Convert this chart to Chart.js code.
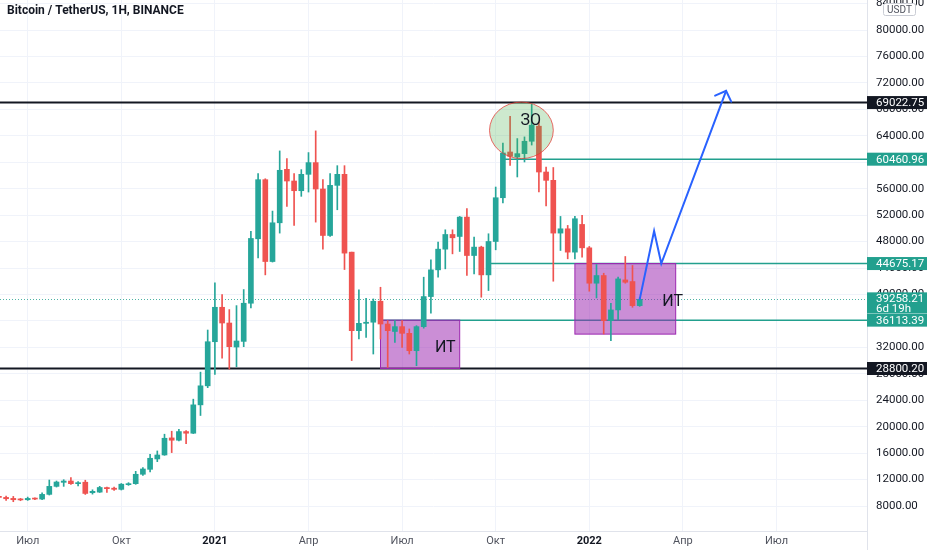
<!DOCTYPE html>
<html><head><meta charset="utf-8">
<script src="https://cdn.jsdelivr.net/npm/chart.js@4.4.1/dist/chart.umd.min.js"></script>
<style>html,body{margin:0;padding:0;background:#fff;overflow:hidden}canvas{display:block}</style>
</head><body>
<canvas id="c" width="932" height="550"></canvas>
<script>
// ---- data ----
const weeks = [
 '2020-06-08','2020-06-15','2020-06-22','2020-06-29','2020-07-06','2020-07-13','2020-07-20','2020-07-27',
 '2020-08-03','2020-08-10','2020-08-17','2020-08-24','2020-08-31','2020-09-07','2020-09-14','2020-09-21',
 '2020-09-28','2020-10-05','2020-10-12','2020-10-19','2020-10-26','2020-11-02','2020-11-09','2020-11-16',
 '2020-11-23','2020-11-30','2020-12-07','2020-12-14','2020-12-21','2020-12-28',
 '2021-01-04','2021-01-11','2021-01-18','2021-01-25','2021-02-01','2021-02-08','2021-02-15','2021-02-22',
 '2021-03-01','2021-03-08','2021-03-15','2021-03-22','2021-03-29','2021-04-05','2021-04-12','2021-04-19',
 '2021-04-26','2021-05-03','2021-05-10','2021-05-17','2021-05-24','2021-05-31','2021-06-07','2021-06-14',
 '2021-06-21','2021-06-28','2021-07-05','2021-07-12','2021-07-19','2021-07-26','2021-08-02','2021-08-09',
 '2021-08-16','2021-08-23','2021-08-30','2021-09-06','2021-09-13','2021-09-20','2021-09-27','2021-10-04',
 '2021-10-11','2021-10-18','2021-10-25','2021-11-01','2021-11-08','2021-11-15','2021-11-22','2021-11-29',
 '2021-12-06','2021-12-13','2021-12-20','2021-12-27',
 '2022-01-03','2022-01-10','2022-01-17','2022-01-24','2022-01-31','2022-02-07','2022-02-14','2022-02-21'
];
const open = [
 9450,9300,9150,9000,8950,9150,9050,9760,10970,11580,11780,11380,11600,10010,10100,10790,
 10700,10520,11230,11380,12800,13550,15120,15720,18300,17950,19260,19010,23300,26180,
 32850,38060,35680,32050,32900,38670,48420,57360,44980,50840,58930,57160,55690,58170,59940,55950,
 48920,56500,58170,46400,34520,35630,35800,38970,35530,34400,35130,34120,31490,35130,39680,43720,
 46850,49070,48770,51700,45890,47160,42960,48010,54630,61550,60800,61300,63170,65450,58520,57260,
 49280,49930,46400,50590,47050,41700,42860,36040,37660,42200,41950,38310
];
const high = [
 9550,9500,9450,9150,9350,9250,10010,11930,11780,11980,12290,11680,11900,10450,10980,10850,
 10850,11400,11530,13250,13800,15820,16330,18860,19310,19610,19420,24160,28250,34620,
 41750,39980,37710,38310,40740,49530,58270,57500,52610,61710,60550,58270,58880,61460,64740,57360,
 58270,59480,59480,46400,40690,39400,39320,41090,36040,36040,36040,34780,35280,42610,45230,47910,
 49780,49780,51800,52970,48670,47300,49180,56250,62900,66960,63580,63830,68900,66100,59250,59200,
 51800,50440,51800,51950,47260,44530,43210,38670,42610,45740,44380,39500
];
const low = [
 9200,8850,8650,8800,8850,8950,8950,9660,10870,10970,11280,11020,9750,9800,10050,10050,
 10370,10420,11120,11280,12640,13150,14710,15670,16080,17850,17440,18960,21690,25900,
 27900,30380,28710,29060,32100,37960,45540,42960,44900,49280,53320,50440,54840,55490,50940,46850,
 48770,52810,43770,30000,33260,33500,30990,33260,28970,32760,32000,30990,29220,34900,37150,42610,
 43870,46140,46500,42860,43110,39580,40590,46750,53830,59530,57770,60040,62600,55490,53400,42000,
 46650,45390,45390,45640,40490,39470,34020,33010,36140,41700,38060,38200
];
const close = [
 9300,9100,8950,8920,9150,9050,9760,10970,11630,11780,11380,11530,9900,10220,10800,10620,
 10520,11300,11380,12800,13600,15220,15720,18250,17950,19260,19010,23300,26180,32850,
 38060,35680,32100,32960,38670,48470,57360,44980,50840,58780,57160,55690,58170,59940,55950,48920,
 56500,58170,46250,34520,35630,35800,38970,35530,34520,35130,34120,31490,35130,39680,43720,46850,
 49070,48570,51700,45890,47160,42960,48010,54630,61400,60900,61300,63170,65600,58520,57260,49280,
 49930,46400,51450,47050,41700,42860,36040,37660,42350,41850,38310,39258.21
];
const timeTickDates  = ['2020-07-06','2020-10-05','2021-01-04','2021-04-05','2021-07-05','2021-10-04','2022-01-03','2022-04-04','2022-07-04'];
const timeTickLabels = ['Июл','Окт','2021','Апр','Июл','Окт','2022','Апр','Июл'];
const priceTicks = [8000,12000,16000,20000,24000,28000,32000,36000,40000,44000,48000,52000,56000,60000,64000,68000,72000,76000,80000,84000];

// horizontal levels drawn on the chart
const levelPrices = [69022.75, 60460.96, 44675.17, 36113.39, 28800.20];
const levelStart  = [null, '2021-10-11', '2021-09-27', '2021-06-14', null];
const levelBlack  = [true, false, false, false, true];
const lastPrice = 39258.21;
const lastPriceNote = '6d 19h';

// zones ("ИТ")
const zoneStart  = ['2021-06-14', '2021-12-20'];
const zoneEnd    = ['2021-08-30', '2022-03-28'];
const zoneTop    = [36113.39, 44675.17];
const zoneBottom = [28800.20, 34000];
const zoneText   = ['ИТ', 'ИТ'];
const zoneTextDate  = ['2021-08-16', '2022-03-25'];
const zoneTextPrice = [31900, 38850];

// ellipse ("ЗО")
const ellipseDates  = ['2021-09-28', '2021-11-29'];
const ellipsePrices = [69100, 60550];
const ellipseText = 'ЗО';
const ellipseTextDate = '2021-11-07';
const ellipseTextPrice = 66300;

// projected path (arrow)
const pathDates  = ['2022-02-21', '2022-03-07', '2022-03-14', '2022-05-16'];
const pathPrices = [39258.21, 49600, 44675.17, 70800];

const titleText = 'Bitcoin / TetherUS, 1H, BINANCE';
const currencyText = 'USDT';

// ---- helpers ----
const DAY = 86400000;
const t0 = Date.parse(weeks[0]);
const xOf = d => (Date.parse(d) - t0) / (7 * DAY);
const UP = '#26a69a', DOWN = '#ef5350', TEAL = '#22a08e', BLACK = '#131722';
const FONT = 'Roboto, "Noto Sans", sans-serif';

const bodyData = weeks.map((d, i) => ({x: xOf(d), y: [open[i], close[i]]}));
const wickData = weeks.map((d, i) => ({x: xOf(d), y: [low[i], high[i]]}));
const colors = weeks.map((d, i) => close[i] >= open[i] ? UP : DOWN);
const tickX = timeTickDates.map(xOf);

const overlay = {
  id: 'overlay',
  beforeDatasetsDraw(chart) {
    const {ctx, chartArea: a, scales: {x, y}} = chart;
    ctx.save();
    ctx.beginPath(); ctx.rect(a.left, a.top, a.right - a.left, a.bottom - a.top); ctx.clip();
    // dotted last price line
    const ly = Math.round(y.getPixelForValue(lastPrice)) + 0.5;
    ctx.strokeStyle = 'rgba(34,160,142,0.8)'; ctx.lineWidth = 1; ctx.setLineDash([1, 2]);
    ctx.beginPath(); ctx.moveTo(a.left, ly); ctx.lineTo(a.right, ly); ctx.stroke();
    ctx.setLineDash([]);
    // levels
    levelPrices.forEach((p, i) => {
      const py = y.getPixelForValue(p);
      const x0 = levelStart[i] ? x.getPixelForValue(xOf(levelStart[i])) : a.left;
      ctx.strokeStyle = levelBlack[i] ? BLACK : TEAL;
      ctx.lineWidth = levelBlack[i] ? 2 : 1.5;
      ctx.beginPath(); ctx.moveTo(x0, py); ctx.lineTo(a.right, py); ctx.stroke();
    });
    // zones
    zoneStart.forEach((s, i) => {
      const x0 = x.getPixelForValue(xOf(s)), x1 = x.getPixelForValue(xOf(zoneEnd[i]));
      const y0 = y.getPixelForValue(zoneTop[i]), y1 = y.getPixelForValue(zoneBottom[i]);
      ctx.fillStyle = 'rgba(156,39,176,0.52)';
      ctx.fillRect(x0, y0, x1 - x0, y1 - y0);
      ctx.strokeStyle = '#9c27b0'; ctx.lineWidth = 1;
      ctx.strokeRect(x0, y0, x1 - x0, y1 - y0);
    });
    ctx.restore();
  },
  afterDatasetsDraw(chart) {
    const {ctx, chartArea: a, scales: {x, y}} = chart;
    ctx.save();
    ctx.beginPath(); ctx.rect(a.left, a.top, a.right - a.left, a.bottom - a.top); ctx.clip();
    // ellipse
    const ex0 = x.getPixelForValue(xOf(ellipseDates[0])), ex1 = x.getPixelForValue(xOf(ellipseDates[1]));
    const ey0 = y.getPixelForValue(ellipsePrices[0]), ey1 = y.getPixelForValue(ellipsePrices[1]);
    ctx.beginPath();
    ctx.ellipse((ex0 + ex1) / 2, (ey0 + ey1) / 2, (ex1 - ex0) / 2, (ey1 - ey0) / 2, 0, 0, Math.PI * 2);
    ctx.fillStyle = 'rgba(76,175,80,0.28)'; ctx.fill();
    ctx.strokeStyle = 'rgba(229,57,53,0.75)'; ctx.lineWidth = 1; ctx.stroke();
    // texts
    ctx.fillStyle = BLACK; ctx.textAlign = 'center'; ctx.textBaseline = 'middle';
    ctx.font = '16px ' + FONT;
    ctx.fillText(ellipseText, x.getPixelForValue(xOf(ellipseTextDate)), y.getPixelForValue(ellipseTextPrice));
    zoneText.forEach((t, i) => {
      ctx.fillText(t, x.getPixelForValue(xOf(zoneTextDate[i])), y.getPixelForValue(zoneTextPrice[i]));
    });
    // path with arrow
    const pts = pathDates.map((d, i) => [x.getPixelForValue(xOf(d)), y.getPixelForValue(pathPrices[i])]);
    ctx.strokeStyle = '#2962ff'; ctx.lineWidth = 2; ctx.lineJoin = 'miter'; ctx.lineCap = 'round';
    ctx.beginPath(); pts.forEach((p, i) => i ? ctx.lineTo(p[0], p[1]) : ctx.moveTo(p[0], p[1])); ctx.stroke();
    const [tx, ty] = pts[pts.length - 1], [px, py] = pts[pts.length - 2];
    const ang = Math.atan2(ty - py, tx - px), L = 12;
    ctx.beginPath();
    ctx.moveTo(tx + L * Math.cos(ang + Math.PI - 0.8), ty + L * Math.sin(ang + Math.PI - 0.8));
    ctx.lineTo(tx, ty);
    ctx.lineTo(tx + L * Math.cos(ang + Math.PI + 0.8), ty + L * Math.sin(ang + Math.PI + 0.8));
    ctx.stroke();
    ctx.restore();
  },
  afterDraw(chart) {
    const {ctx, chartArea: a, scales: {x, y}} = chart;
    ctx.save();
    // axis border continuation
    ctx.strokeStyle = '#e0e3eb'; ctx.lineWidth = 1;
    ctx.beginPath(); ctx.moveTo(Math.round(a.right) + 0.5, a.bottom); ctx.lineTo(Math.round(a.right) + 0.5, chart.height); ctx.stroke();
    // price labels
    ctx.font = '11.5px ' + FONT; ctx.textAlign = 'left'; ctx.textBaseline = 'middle';
    const bx = a.right, bw = 60;
    const ly = y.getPixelForValue(lastPrice);
    ctx.fillStyle = TEAL; ctx.fillRect(bx, ly - 7, bw, 21);
    ctx.fillStyle = '#fff';
    ctx.fillText(lastPrice.toFixed(2), bx + 9, ly);
    ctx.fillText(lastPriceNote, bx + 9, ly + 9.5);
    levelPrices.forEach((p, i) => {
      const py = y.getPixelForValue(p);
      ctx.fillStyle = levelBlack[i] ? BLACK : TEAL;
      ctx.fillRect(bx, py - 6.5, bw, 13);
      ctx.fillStyle = '#fff';
      ctx.fillText(p.toFixed(2), bx + 9, py + 0.5);
    });
    // currency box
    ctx.fillStyle = '#fff'; ctx.strokeStyle = '#c9ccd4'; ctx.lineWidth = 1;
    ctx.beginPath(); ctx.roundRect(883.5, 3.5, 32, 12, 2); ctx.fill(); ctx.stroke();
    ctx.fillStyle = '#50535e'; ctx.font = '10px ' + FONT; ctx.textAlign = 'center';
    ctx.fillText(currencyText, 899.5, 10);
    // title
    ctx.fillStyle = BLACK; ctx.font = 'bold 12px ' + FONT; ctx.textAlign = 'left';
    ctx.fillText(titleText, 7, 11);
    ctx.restore();
  }
};

new Chart(document.getElementById('c'), {
  type: 'bar',
  data: {
    datasets: [
      {data: bodyData, backgroundColor: colors, barThickness: 5, minBarLength: 1, grouped: false, order: 0, borderWidth: 0},
      {data: wickData, backgroundColor: colors, barThickness: 1, grouped: false, order: 1, borderWidth: 0}
    ]
  },
  options: {
    responsive: false, animation: false, events: [],
    layout: {padding: 0, autoPadding: false},
    plugins: {legend: {display: false}, tooltip: {enabled: false}},
    scales: {
      x: {
        type: 'linear', offset: false, min: 0.153, max: 120.57,
        grid: {color: '#f0f3fa', drawTicks: false, offset: false},
        border: {color: '#e0e3eb'},
        afterBuildTicks: s => { s.ticks = tickX.map(v => ({value: v})); },
        afterFit: s => { s.height = 19; s.paddingLeft = 0; s.paddingRight = 0; },
        ticks: {
          autoSkip: false, maxRotation: 0, padding: 4,
          callback: v => { const k = tickX.findIndex(t => Math.abs(t - v) < 1e-6); return k >= 0 ? timeTickLabels[k] : ''; },
          color: c => /^\d/.test(timeTickLabels[c.index] || '') ? '#131722' : '#50535e',
          font: c => ({family: FONT, size: 11, weight: /^\d/.test(timeTickLabels[c.index] || '') ? 'bold' : 'normal'})
        }
      },
      y: {
        position: 'right', min: 4220, max: 84538,
        grid: {color: '#f0f3fa', drawTicks: false},
        border: {color: '#e0e3eb'},
        afterBuildTicks: s => { s.ticks = priceTicks.map(v => ({value: v})); },
        afterFit: s => { s.width = 65; s.paddingTop = 0; s.paddingBottom = 0; },
        ticks: {
          autoSkip: false, padding: 9, color: '#131722',
          font: {family: FONT, size: 11.5},
          callback: v => Number(v).toFixed(2)
        }
      }
    }
  },
  plugins: [overlay]
});
</script>
</body></html>
